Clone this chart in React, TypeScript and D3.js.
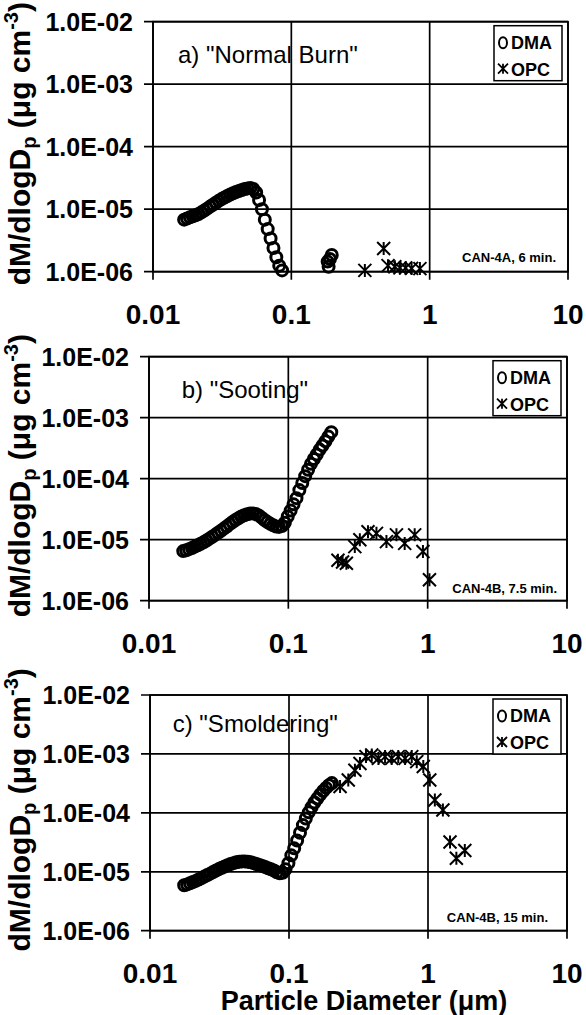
import React from "react";
import * as d3 from "d3";

// DMA size channels (um)
const dmaDiameters = [
  0.016, 0.01679, 0.01761, 0.01848, 0.01938, 0.02034, 0.02134, 0.02238, 0.02348, 0.02464,
  0.02585, 0.02712, 0.02845, 0.02985, 0.03132, 0.03286, 0.03447, 0.03616, 0.03794, 0.03981,
  0.04176, 0.04382, 0.04597, 0.04823, 0.0506, 0.05308, 0.05569, 0.05843, 0.0613, 0.06431,
  0.06747, 0.07079, 0.07427, 0.07791, 0.08174, 0.08576, 0.08997, 0.0944, 0.09903, 0.1039,
  0.109, 0.1144, 0.12, 0.1259, 0.1321, 0.1386, 0.1454, 0.1525, 0.16, 0.1679,
  0.1761, 0.1848, 0.1938, 0.2034,
];

// dM/dlogDp (ug cm-3), one value per DMA channel, null = no point
const dmaNormal = [
  null, 6.8e-6, 7.1e-6, 7.4e-6, 7.7e-6, 8.0e-6, 8.4e-6, 8.9e-6, 9.5e-6, 1.02e-5,
  1.1e-5, 1.18e-5, 1.27e-5, 1.36e-5, 1.45e-5, 1.54e-5, 1.63e-5, 1.72e-5, 1.8e-5, 1.88e-5,
  1.96e-5, 2.03e-5, 2.1e-5, 2.15e-5, 2.18e-5, 2.1e-5, 1.85e-5, 1.4e-5, 1.0e-5, 6.8e-6,
  4.8e-6, 3.4e-6, 2.4e-6, 1.7e-6, 1.25e-6, 1.05e-6, null, null, null, null,
  null, null, null, null, null, null, null, null, null, null,
  null, null, null, null,
];
const dmaSooting = [
  null, null, 6.5e-6, 6.7e-6, 7.0e-6, 7.3e-6, 7.7e-6, 8.1e-6, 8.6e-6, 9.1e-6,
  9.7e-6, 1.04e-5, 1.12e-5, 1.2e-5, 1.3e-5, 1.4e-5, 1.52e-5, 1.65e-5, 1.8e-5, 1.95e-5,
  2.1e-5, 2.25e-5, 2.4e-5, 2.52e-5, 2.62e-5, 2.68e-5, 2.7e-5, 2.65e-5, 2.5e-5, 2.3e-5,
  2.1e-5, 1.95e-5, 1.82e-5, 1.72e-5, 1.65e-5, 1.62e-5, 1.68e-5, 1.9e-5, 2.4e-5, 3.0e-5,
  3.8e-5, 4.8e-5, 6.5e-5, 8.5e-5, 1.1e-4, 1.4e-4, 1.75e-4, 2.1e-4, 2.5e-4, 3.0e-4,
  3.5e-4, 4.1e-4, 4.9e-4, 5.8e-4,
];
const dmaSmolder = [
  null, null, 5.9e-6, 6.1e-6, 6.4e-6, 6.7e-6, 7.0e-6, 7.4e-6, 7.8e-6, 8.3e-6,
  8.8e-6, 9.3e-6, 9.9e-6, 1.05e-5, 1.11e-5, 1.17e-5, 1.23e-5, 1.29e-5, 1.35e-5, 1.4e-5,
  1.45e-5, 1.48e-5, 1.5e-5, 1.5e-5, 1.48e-5, 1.45e-5, 1.4e-5, 1.35e-5, 1.3e-5, 1.25e-5,
  1.2e-5, 1.15e-5, 1.1e-5, 1.05e-5, 9.8e-6, 9.4e-6, 9.6e-6, 1.1e-5, 1.4e-5, 1.9e-5,
  2.5e-5, 3.4e-5, 4.6e-5, 6.2e-5, 8.0e-5, 1.02e-4, 1.25e-4, 1.5e-4, 1.75e-4, 2.05e-4,
  2.35e-4, 2.65e-4, 2.95e-4, 3.2e-4,
];
// stray DMA points of the normal burn near 0.2 um
const dmaExtraDiamNormal = [0.183, 0.186, 0.19, 0.196];
const dmaExtraNormal = [1.45e-6, 1.2e-6, 1.6e-6, 1.85e-6];

// OPC
const opcDiamNormal = [0.34, 0.465, 0.5, 0.56, 0.61, 0.67, 0.74, 0.85];
const opcNormal = [1.05e-6, 2.35e-6, 1.25e-6, 1.2e-6, 1.15e-6, 1.15e-6, 1.13e-6, 1.12e-6];
const opcDiamSooting = [0.227, 0.245, 0.261, 0.3, 0.326, 0.373, 0.429, 0.506, 0.597, 0.684, 0.807, 0.925, 1.03];
const opcSooting = [4.6e-6, 4.3e-6, 4.1e-6, 7.7e-6, 1.0e-5, 1.35e-5, 1.27e-5, 9.3e-6, 1.2e-5, 8.7e-6, 1.2e-5, 6.4e-6, 2.2e-6];
const opcDiamSmolder = [
  0.233, 0.267, 0.298, 0.324, 0.358, 0.394, 0.44, 0.491, 0.548, 0.611, 0.684, 0.764, 0.83, 0.925,
  1.03, 1.12, 1.28, 1.44, 1.6, 1.84,
];
const opcSmolder = [
  2.8e-4, 3.6e-4, 5.3e-4, 6.9e-4, 9.0e-4, 9.6e-4, 8.4e-4, 9.0e-4, 8.4e-4, 9.0e-4, 8.4e-4, 9.0e-4, 7.4e-4, 6.1e-4,
  3.6e-4, 1.65e-4, 1.12e-4, 3.2e-5, 1.7e-5, 2.3e-5,
];

const xTicks = [0.01, 0.1, 1, 10];
const xTickLabels = ["0.01", "0.1", "1", "10"];
const yTicks = [1e-2, 1e-3, 1e-4, 1e-5, 1e-6];
const yTickLabels = ["1.0E-02", "1.0E-03", "1.0E-04", "1.0E-05", "1.0E-06"];

const panelTitles = ['a) "Normal Burn"', 'b) "Sooting"', 'c) "Smoldering"'];
const panelNotes = ["CAN-4A, 6 min.", "CAN-4B, 7.5 min.", "CAN-4B, 15 min."];

const FONT = "'Liberation Sans', Arial, Helvetica, sans-serif";

// frame geometry of each panel (px)
const frames = [
  { left: 153, right: 568, top: 21.7, bottom: 271.7, tdx: 25, tdy: 41.3, nRight: 12, nBottom: 10 },
  { left: 149, right: 567, top: 356.7, bottom: 600.7, tdx: 32.7, tdy: 41.3, nRight: 10, nBottom: 7.7 },
  { left: 150, right: 567, top: 695, bottom: 930.7, tdx: 22.7, tdy: 36.7, nRight: 19, nBottom: 9 },
];

type Pt = { d: number; v: number };

const pair = (ds: number[], vs: (number | null)[]): Pt[] =>
  ds.map((d, i) => ({ d, v: vs[i] as number })).filter((p) => p.v != null);

const series = [
  { dma: [...pair(dmaDiameters, dmaNormal), ...pair(dmaExtraDiamNormal, dmaExtraNormal)], opc: pair(opcDiamNormal, opcNormal) },
  { dma: pair(dmaDiameters, dmaSooting), opc: pair(opcDiamSooting, opcSooting) },
  { dma: pair(dmaDiameters, dmaSmolder), opc: pair(opcDiamSmolder, opcSmolder) },
];

const starPath = (s: number) => `M${-s},${-s}L${s},${s}M${-s},${s}L${s},${-s}M0,${-s}L0,${s}`;

function Panel({ idx }: { idx: number }) {
  const f = frames[idx];
  const x = d3.scaleLog().domain([0.01, 10]).range([f.left, f.right]);
  const y = d3.scaleLog().domain([1e-6, 1e-2]).range([f.bottom, f.top]);
  const { dma, opc } = series[idx];
  const midY = (f.top + f.bottom) / 2 - 3;
  const legX = f.right - 74;
  const legY = f.top + 4;

  return (
    <g>
      {/* horizontal grid + left ticks */}
      {yTicks.map((t) => (
        <line key={"h" + t} x1={f.left - 9} x2={f.right} y1={y(t)} y2={y(t)} stroke="#000" strokeWidth={1.7} />
      ))}
      {/* vertical grid + bottom ticks */}
      {xTicks.map((t) => (
        <line key={"v" + t} x1={x(t)} x2={x(t)} y1={f.top} y2={f.bottom + 8} stroke="#000" strokeWidth={1.7} />
      ))}
      <rect x={f.left} y={f.top} width={f.right - f.left} height={f.bottom - f.top} fill="none" stroke="#000" strokeWidth={1.7} />

      {yTicks.map((t, i) => (
        <text key={"yl" + t} x={f.left - 20} y={y(t)} dy="0.36em" textAnchor="end" fontFamily={FONT} fontWeight="bold" fontSize={25}>
          {yTickLabels[i]}
        </text>
      ))}
      {xTicks.map((t, i) => (
        <text key={"xl" + t} x={x(t)} y={f.bottom + 52} textAnchor="middle" fontFamily={FONT} fontWeight="bold" fontSize={28}>
          {xTickLabels[i]}
        </text>
      ))}

      {/* y axis title */}
      <text transform={`translate(30,${midY}) rotate(-90)`} textAnchor="middle" fontFamily={FONT} fontWeight="bold" fontSize={30}>
        dM/dlogD<tspan fontSize={20} dy={6}>p</tspan>
        <tspan dy={-6}> (μg cm</tspan>
        <tspan fontSize={20} dy={-12}>-3</tspan>
        <tspan dy={12}>)</tspan>
      </text>

      <text x={f.left + f.tdx} y={f.top + f.tdy} fontFamily={FONT} fontSize={24}>
        {panelTitles[idx]}
      </text>
      <text x={f.right - f.nRight} y={f.bottom - f.nBottom} textAnchor="end" fontFamily={FONT} fontWeight="bold" fontSize={13}>
        {panelNotes[idx]}
      </text>

      {/* legend */}
      <rect x={legX} y={legY} width={68} height={55} fill="#fff" stroke="#000" strokeWidth={1.5} />
      <ellipse cx={legX + 9} cy={legY + 17} rx={4} ry={5.5} fill="none" stroke="#000" strokeWidth={2} />
      <text x={legX + 17} y={legY + 23} fontFamily={FONT} fontWeight="bold" fontSize={18}>DMA</text>
      <path d={starPath(5)} transform={`translate(${legX + 9},${legY + 43})`} stroke="#000" strokeWidth={1.8} fill="none" />
      <text x={legX + 17} y={legY + 50} fontFamily={FONT} fontWeight="bold" fontSize={18}>OPC</text>

      {/* data */}
      {dma.map((p, i) => (
        <circle key={"d" + i} cx={x(p.d)} cy={y(p.v)} r={5.5} fill="none" stroke="#000" strokeWidth={3} />
      ))}
      {opc.map((p, i) => (
        <path key={"o" + i} d={starPath(6.5)} transform={`translate(${x(p.d)},${y(p.v)})`} stroke="#000" strokeWidth={2} fill="none" />
      ))}
    </g>
  );
}

export default function App() {
  return (
    <svg width={586} height={1015} style={{ position: "absolute", left: 0, top: 0, background: "#fff" }}>
      {frames.map((_, i) => (
        <Panel key={i} idx={i} />
      ))}
      <text x={364} y={1010} textAnchor="middle" fontFamily={FONT} fontWeight="bold" fontSize={27}>
        Particle Diameter (μm)
      </text>
    </svg>
  );
}
